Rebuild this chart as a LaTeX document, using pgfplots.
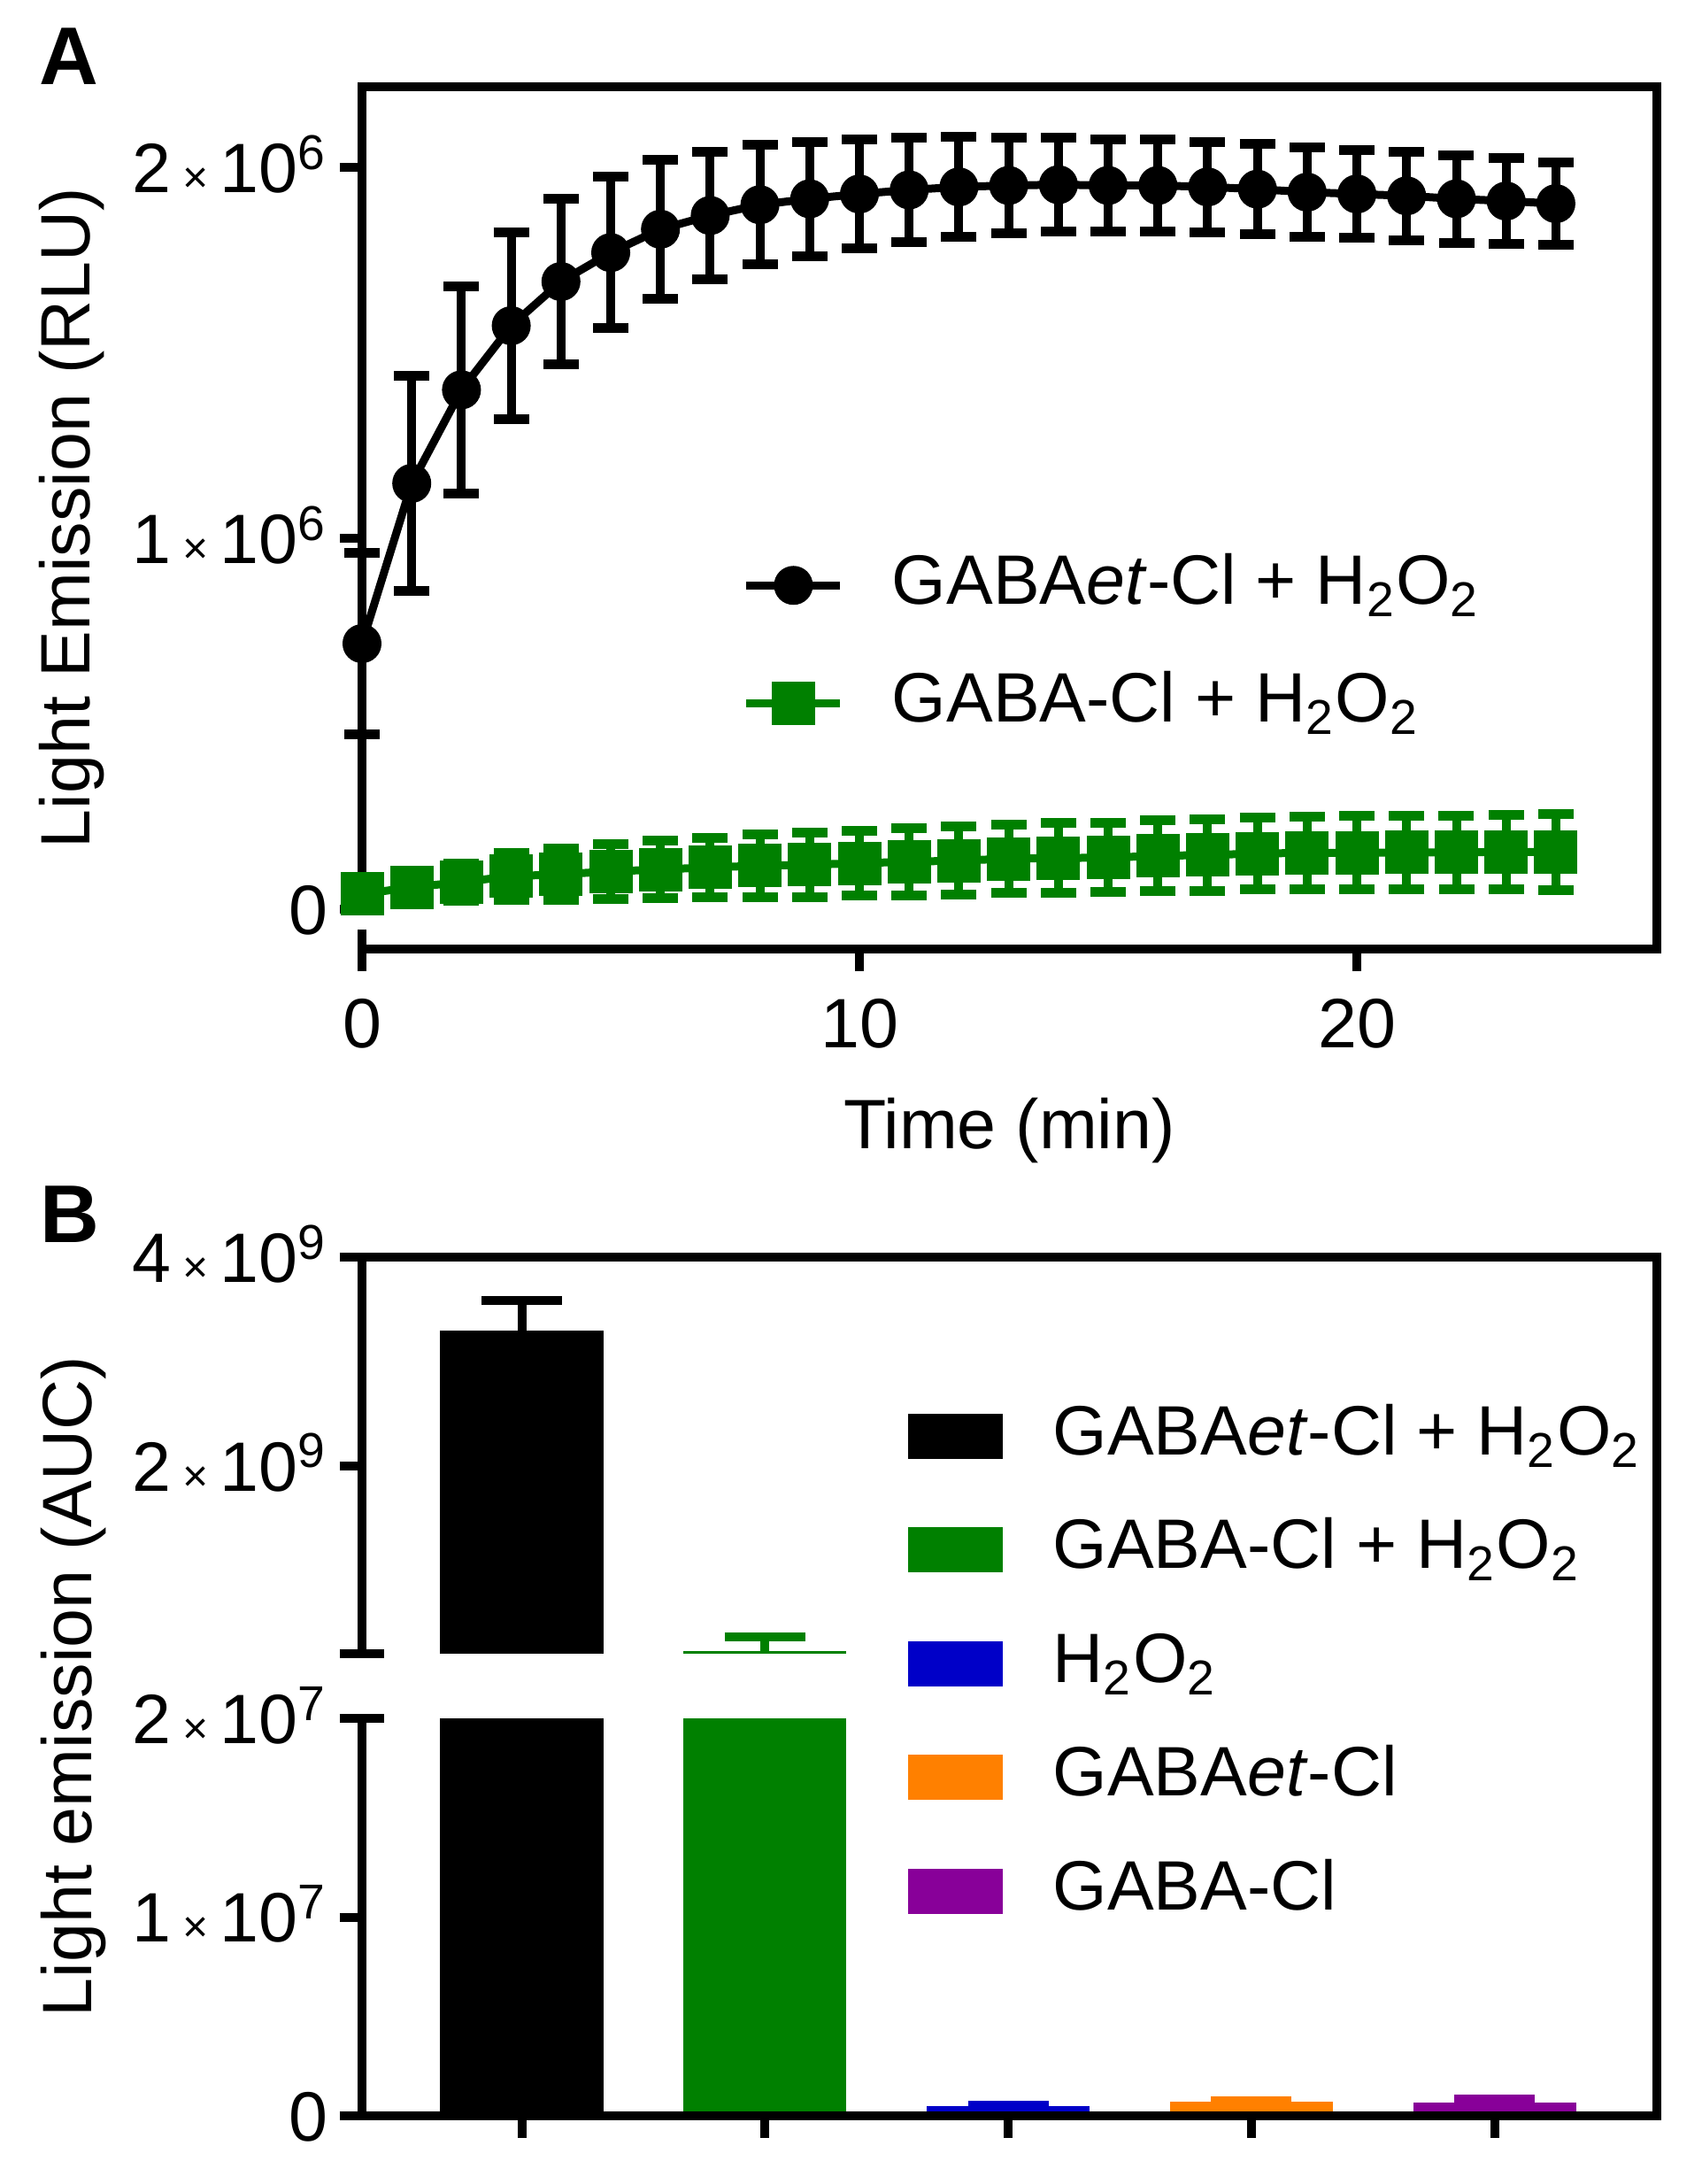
\documentclass[border=0pt]{standalone}
\usepackage{fontspec}
\setmainfont{Liberation Sans}
\usepackage{pgfplots}
\usepackage{pgfplotstable}
\pgfplotsset{compat=1.18}

\definecolor{pgreen}{RGB}{0,128,0}
\definecolor{pblue}{RGB}{0,0,200}
\definecolor{porange}{RGB}{255,128,0}
\definecolor{ppurple}{RGB}{136,0,153}

\newcommand{\tms}{\,{\fontsize{10}{10}\selectfont ×}\,}
\newcommand{\hoo}{H\textsubscript{2}O\textsubscript{2}}

\pgfplotstableread{
t m e
0 716000 245000
1 1148000 290000
2 1400000 280000
3 1573000 252000
4 1692000 224000
5 1770000 204000
6 1833000 188000
7 1870000 172000
8 1899000 161000
9 1915000 154000
10 1928000 147000
11 1939000 141000
12 1947000 135000
13 1951000 130000
14 1953000 127000
15 1951000 125000
16 1951000 124000
17 1947000 122000
18 1941000 121000
19 1933000 120000
20 1928000 119000
21 1923000 119000
22 1915000 118000
23 1909000 115000
24 1902000 112000
}\blackdata

\pgfplotstableread{
t m e
0 41000 10000
1 59000 25000
2 73000 50000
3 89000 63000
4 94000 69000
5 102000 74000
6 107000 78000
7 113000 80000
8 117000 85000
9 120000 87000
10 124000 88000
11 128000 90000
12 131000 91000
13 136000 92000
14 138000 94000
15 139000 93000
16 144000 95000
17 146000 97000
18 150000 97000
19 152000 98000
20 152000 99000
21 153000 100000
22 153000 100000
23 154000 101000
24 154000 102000
}\greendata

\pgfplotsset{
  common/.style={
    scale only axis, anchor=south west, width=292.6pt,
    axis line style={draw=none},
    tick pos=left, tick align=outside, major tick length=5pt,
    tick style={black, line width=2pt},
    scaled y ticks=false,
    yticklabel style={inner sep=0pt, anchor=base east, yshift=-5.65pt, xshift=-2.6pt},
    legend cell align=left,
  },
  mybar/.style={ybar, fill=#1, draw=none, bar shift=0pt, bar width=0.67,
    error bars/y dir=plus, error bars/y explicit,
    error bars/error bar style={draw=#1, line width=2pt},
    error bars/error mark options={draw=#1, line width=2pt, mark size=9.1pt, rotate=90}},
  barleg/.style={legend image code/.code={\fill[##1, draw=none] (0pt,-5.1pt) rectangle (21.4pt,5.1pt);}},
}

\begin{document}
\begin{tikzpicture}[font=\fontsize{15.8}{19}\selectfont]
\useasboundingbox (0,0) rectangle (384.6pt,-493.4pt);

% ---------------- Panel A ----------------
\begin{axis}[common, name=A, at={(81.8pt,-214.4pt)}, height=194.8pt,
  xmin=0, xmax=26.03, ymin=-107400, ymax=2217000, clip=false,
  xtick={0,10,20}, xticklabels={0,10,20},
  xticklabel style={inner sep=0pt, anchor=north, yshift=-6pt},
  extra x ticks={0}, extra x tick labels={},
  extra x tick style={major tick length=9pt, tick align=center},
  ytick={0,1000000,2000000},
  yticklabels={0, 1\tms10\textsuperscript{6}, 2\tms10\textsuperscript{6}},
  xlabel={Time (min)},
  xlabel style={at={(axis description cs:0.5,0)}, anchor=base, yshift=-45pt, inner sep=0pt},
  ylabel={Light Emission (RLU)},
  ylabel style={at={(axis description cs:-0.2239,0.5)}, anchor=center, inner sep=0pt},
  legend image code/.code={\draw[mark repeat=2,mark phase=2,#1] plot coordinates {(0pt,0pt) (10.6pt,0pt) (21.2pt,0pt)};},
  legend style={draw=none, fill=none, inner sep=0pt, at={(0.2932,0.46)}, anchor=north west,
    row sep=12.1pt, column sep=10.8pt,
    nodes={inner sep=0pt, text height=11.5pt, text depth=3pt}},
]
\draw[line width=2pt, line join=miter] (axis cs:0,0) -- (rel axis cs:0,1) -- (rel axis cs:1,1) -- (rel axis cs:1,0) -- (rel axis cs:0,0);
\addplot[black, line width=1.8pt, mark=*, mark size=3.5pt, mark options={solid},
  error bars/.cd, y dir=both, y explicit,
  error bar style={line width=2pt, black},
  error mark options={line width=2.2pt, mark size=4pt, black, rotate=90}]
  table[x=t, y=m, y error=e]{\blackdata};
\addplot[pgreen, line width=1.8pt, mark=square*, mark size=4pt, mark options={solid},
  error bars/.cd, y dir=both, y explicit,
  error bar style={line width=2pt, pgreen},
  error mark options={line width=2.2pt, mark size=4pt, pgreen, rotate=90}]
  table[x=t, y=m, y error=e]{\greendata};
\legend{GABA\textit{et}-Cl + \hoo, GABA-Cl + \hoo}
\end{axis}

% ---------------- Panel B upper ----------------
\begin{axis}[common, name=Bup, at={(81.8pt,-373.6pt)}, height=89.6pt,
  xmin=-0.657, xmax=4.667, ymin=200000000, ymax=4000000000,
  xtick=\empty,
  ytick={2000000000,4000000000},
  yticklabels={2\tms10\textsuperscript{9}, 4\tms10\textsuperscript{9}},
  extra y ticks={200000000}, extra y tick labels={},
  extra y tick style={major tick length=10pt, tick align=center},
  legend style={draw=none, fill=none, inner sep=0pt, at={(0.4209,0.632)}, anchor=north west,
    row sep=11.2pt, column sep=11.4pt,
    nodes={inner sep=0pt, text height=11.5pt, text depth=3pt}},
]
\addplot[mybar=black, barleg] coordinates {(0,3300000000) +- (0,285000000)};
\addplot[mybar=pgreen, barleg] coordinates {(1,229000000) +- (0,135000000)};
\addlegendimage{fill=pblue, barleg}
\addlegendimage{fill=porange, barleg}
\addlegendimage{fill=ppurple, barleg}
\legend{GABA\textit{et}-Cl + \hoo, GABA-Cl + \hoo, \hoo, GABA\textit{et}-Cl, GABA-Cl}
\end{axis}

% ---------------- Panel B lower ----------------
\begin{axis}[common, name=Blo, at={(81.8pt,-478pt)}, height=89.8pt,
  xmin=-0.657, xmax=4.667, ymin=0, ymax=20000000,
  xtick={0,1,2,3,4}, xticklabels={},
  ytick={0,10000000,20000000},
  yticklabels={0, 1\tms10\textsuperscript{7}, 2\tms10\textsuperscript{7}},
  extra y ticks={20000000}, extra y tick labels={},
  extra y tick style={major tick length=10pt, tick align=center},
  ylabel={Light emission (AUC)},
  ylabel style={at={(axis description cs:-0.2228,1.080)}, anchor=center, inner sep=0pt},
]
\addplot[mybar=black] coordinates {(0,3300000000) +- (0,285000000)};
\addplot[mybar=pgreen] coordinates {(1,229000000) +- (0,135000000)};
\addplot[mybar=pblue] coordinates {(2,490000) +- (0,50000)};
\addplot[mybar=porange] coordinates {(3,714000) +- (0,50000)};
\addplot[mybar=ppurple] coordinates {(4,670000) +- (0,180000)};
\end{axis}

\draw[line width=2pt, line join=miter] (Bup.south west) -- (Bup.north west) -- (Bup.north east) -- (Blo.south east) -- (Blo.south west) -- (Blo.north west);

\node[font=\bfseries\fontsize{18.5}{20}\selectfont, anchor=base, inner sep=0pt] at (15.6pt,-19pt) {A};
\node[font=\bfseries\fontsize{18.5}{20}\selectfont, anchor=base, inner sep=0pt] at (15.7pt,-280.6pt) {B};
\end{tikzpicture}
\end{document}
